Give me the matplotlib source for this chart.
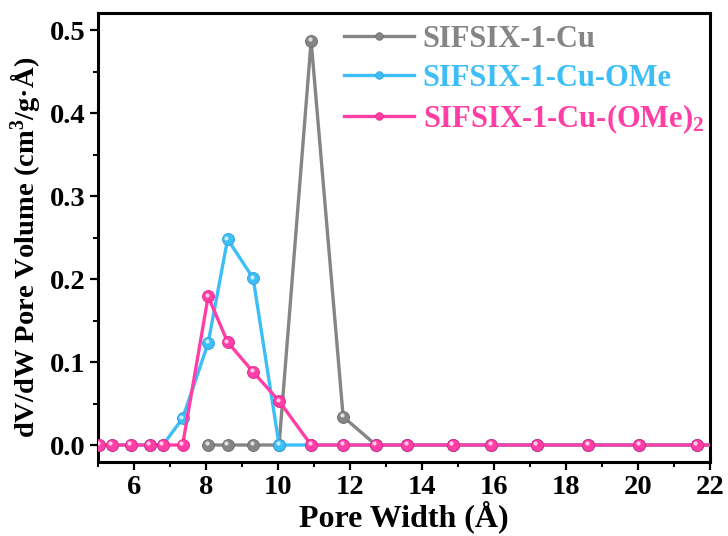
import matplotlib
matplotlib.use("Agg")
import matplotlib.pyplot as plt
from matplotlib.ticker import MultipleLocator
from matplotlib.lines import Line2D
import matplotlib.transforms as mtransforms

plt.rcParams['font.family'] = ['Liberation Serif', 'DejaVu Serif']
plt.rcParams['font.weight'] = 'bold'
plt.rcParams['mathtext.fontset'] = 'custom'
plt.rcParams['mathtext.rm'] = 'Liberation Serif:bold'
plt.rcParams['mathtext.it'] = 'Liberation Serif:bold'
plt.rcParams['mathtext.bf'] = 'Liberation Serif:bold'

# Data
pore_width = [5.03, 5.38, 5.91, 6.44, 6.80, 7.35, 8.06, 8.60, 9.31, 10.03, 10.92,
              11.81, 12.72, 13.59, 14.85, 15.92, 17.19, 18.62, 20.04, 21.63, 23.40]
cu_x = [8.06, 8.60, 9.31, 10.03, 10.92, 11.81, 12.72, 13.59, 14.85, 15.92, 17.19,
        18.62, 20.04, 21.63, 23.40]
cu_y = [0.0, 0.0, 0.0, 0.0, 0.487, 0.034, 0.0, 0.0, 0.0, 0.0, 0.0, 0.0, 0.0, 0.0, 0.0]
ome_y = [0.0, 0.0, 0.0, 0.0, 0.0, 0.032, 0.123, 0.248, 0.201, 0.0, 0.0,
         0.0, 0.0, 0.0, 0.0, 0.0, 0.0, 0.0, 0.0, 0.0, 0.0]
ome2_y = [0.0, 0.0, 0.0, 0.0, 0.0, 0.0, 0.179, 0.124, 0.088, 0.053, 0.0,
          0.0, 0.0, 0.0, 0.0, 0.0, 0.0, 0.0, 0.0, 0.0, 0.0]

labels = ['SIFSIX-1-Cu', 'SIFSIX-1-Cu-OMe', 'SIFSIX-1-Cu-(OMe)$_{2}$']
colors = ['#858585', '#3DBEF7', '#FF3EA6']
edge_colors = ['#6a6a6a', '#2a9fd6', '#e0268a']
xticks = [6, 8, 10, 12, 14, 16, 18, 20, 22]
yticks = [0.0, 0.1, 0.2, 0.3, 0.4, 0.5]

fig = plt.figure(figsize=(7.28, 5.36), dpi=100)
ax = fig.add_axes([0.1346, 0.138, 0.8407, 0.8377])

series = [(cu_x, cu_y), (pore_width, ome_y), (pore_width, ome2_y)]
hl = mtransforms.offset_copy(ax.transData, fig=fig, x=-1.1, y=1.1, units='points')
for i, ((xs, ys), c, ec) in enumerate(zip(series, colors, edge_colors)):
    ax.plot(xs, ys, '-', color=c, lw=2.4, marker='o', markersize=8.6,
            markerfacecolor=c, markeredgecolor=ec, markeredgewidth=0.6,
            zorder=2 + i, clip_on=True)
    ax.plot(xs, ys, 'o', color='white', markersize=3.0, alpha=0.75,
            markeredgewidth=0, transform=hl, zorder=2 + i + 0.5)

ax.set_xlim(5, 22)
ax.set_ylim(-0.0205, 0.5205)
ax.set_xticks(xticks)
ax.set_yticks(yticks)
ax.set_xticklabels([str(t) for t in xticks])
ax.set_yticklabels([f"{t:.1f}" for t in yticks])
ax.xaxis.set_minor_locator(MultipleLocator(1))
ax.yaxis.set_minor_locator(MultipleLocator(0.05))
ax.tick_params(which='major', direction='out', length=6, width=1.6, labelsize=20.5, pad=3)
ax.tick_params(which='minor', direction='out', length=3.5, width=1.4)
for lab in ax.get_xticklabels() + ax.get_yticklabels():
    lab.set_fontweight('bold')
for s in ax.spines.values():
    s.set_linewidth(2.2)

ax.set_xlabel('Pore Width (Å)', fontsize=23, fontweight='bold', labelpad=1)
ax.set_ylabel('dV/dW Pore Volume (cm$^{3}$/g·Å)', fontsize=20.5, fontweight='bold')
ax.yaxis.set_label_coords(-0.092, 0.477)

handles = [Line2D([0], [0], color=c, lw=2.4, marker='o', markersize=5.5,
                  markerfacecolor=c, markeredgecolor=ec, markeredgewidth=0.5)
           for c, ec in zip(colors, edge_colors)]
leg = ax.legend(handles, labels, loc='upper right', frameon=False, fontsize=22,
                handlelength=2.3, handletextpad=0.28, labelspacing=0.32,
                borderpad=0.15, borderaxespad=0.0, bbox_to_anchor=(0.998, 0.984))
for t, c in zip(leg.get_texts(), colors):
    t.set_color(c)
    t.set_fontweight('bold')

fig.savefig('out.png', dpi=100)
